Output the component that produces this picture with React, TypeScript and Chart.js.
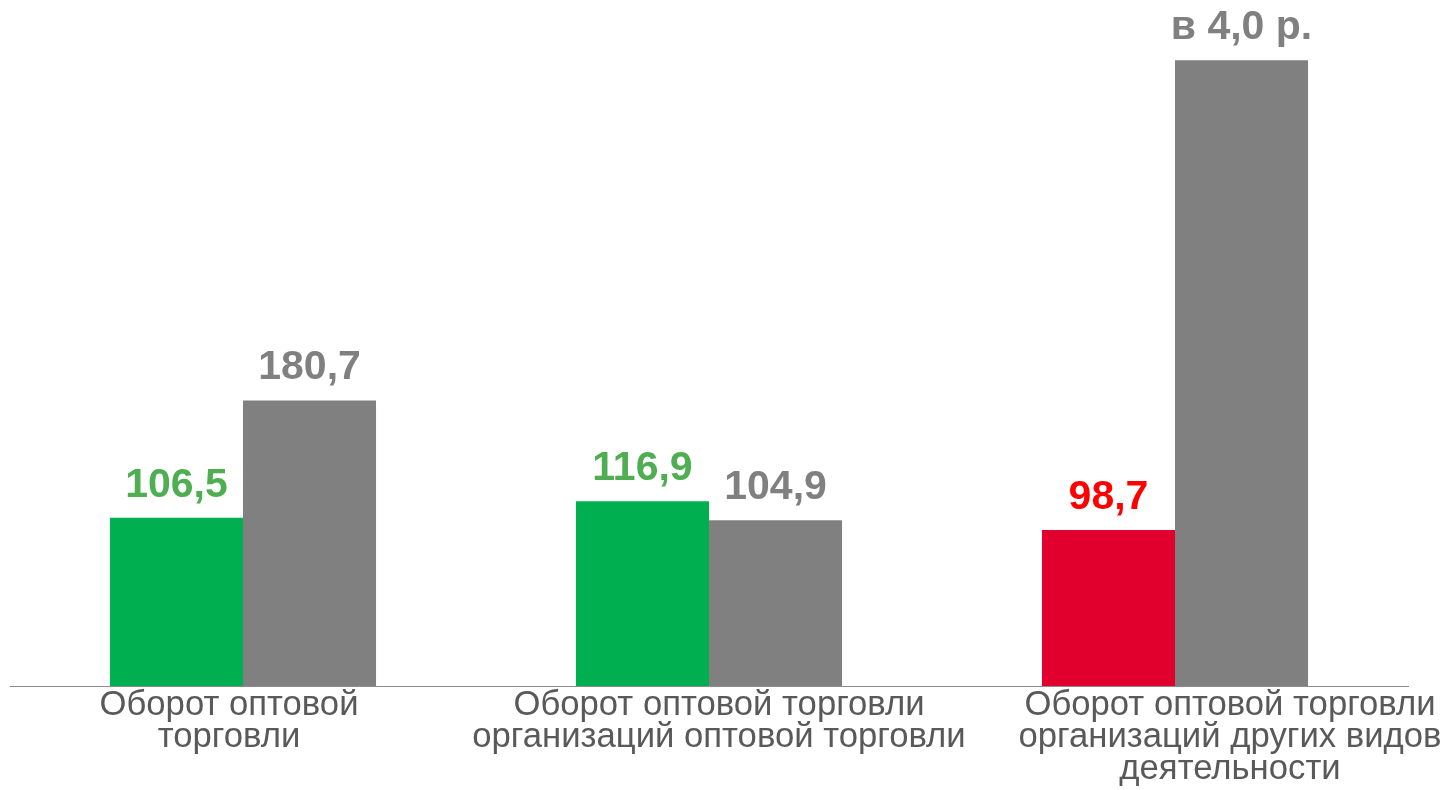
import React, { useEffect, useRef } from "react";
import { Chart, registerables } from "chart.js";

Chart.register(...registerables);

const categories: string[][] = [
  ["Оборот оптовой", "торговли"],
  ["Оборот оптовой торговли", "организаций оптовой торговли"],
  ["Оборот оптовой торговли", "организаций других видов", "деятельности"],
];
const seriesA: number[] = [106.5, 116.9, 98.7];
const seriesB: number[] = [180.7, 104.9, 396];
const labelsA: string[] = ["106,5", "116,9", "98,7"];
const labelsB: string[] = ["180,7", "104,9", "в 4,0 р."];
const barColorsA: string[] = ["#00B050", "#00B050", "#E1002D"];
const barColorsB: string[] = ["#808080", "#808080", "#808080"];
const labelColorsA: string[] = ["#4EAE51", "#4EAE51", "#FF0000"];
const labelColorsB: string[] = ["#808080", "#808080", "#808080"];

const FONT = "'Liberation Sans', Arial, sans-serif";
const catOffsets = [-14, 10, 55];

const labelPlugin = {
  id: "customLabels",
  afterDatasetsDraw(chart: any) {
    const ctx = chart.ctx;
    ctx.save();
    ctx.font = `bold 41px ${FONT}`;
    ctx.textAlign = "center";
    ctx.textBaseline = "alphabetic";
    const sets = [
      { labels: labelsA, colors: labelColorsA },
      { labels: labelsB, colors: labelColorsB },
    ];
    sets.forEach((s, di) => {
      const meta = chart.getDatasetMeta(di);
      meta.data.forEach((bar: any, i: number) => {
        ctx.fillStyle = s.colors[i];
        ctx.fillText(s.labels[i], bar.x, bar.y - 21);
      });
    });
    // category labels
    const xs = chart.scales.x;
    const bottom = chart.chartArea.bottom;
    ctx.font = `34.7px ${FONT}`;
    ctx.fillStyle = "#595959";
    categories.forEach((lines, i) => {
      const cx = xs.getPixelForValue(i) + catOffsets[i];
      lines.forEach((line, li) => {
        ctx.fillText(line, cx, bottom + 29 + li * 32);
      });
    });
    ctx.restore();
  },
};

export default function App() {
  const ref = useRef<HTMLCanvasElement | null>(null);
  useEffect(() => {
    if (!ref.current) return;
    const chart = new Chart(ref.current, {
      type: "bar",
      data: {
        labels: categories.map((c) => c.join(" ")),
        datasets: [
          {
            data: seriesA,
            backgroundColor: barColorsA,
            borderWidth: 0,
            barPercentage: 1,
            categoryPercentage: 0.571,
          },
          {
            data: seriesB,
            backgroundColor: barColorsB,
            borderWidth: 0,
            barPercentage: 1,
            categoryPercentage: 0.571,
          },
        ],
      },
      options: {
        animation: false,
        responsive: true,
        maintainAspectRatio: false,
        layout: { padding: { left: 10, right: 37, top: 8, bottom: 0 } },
        plugins: {
          legend: { display: false },
          tooltip: { enabled: false },
        },
        scales: {
          x: {
            grid: { display: false },
            border: { display: true, color: "#8C8C8C", width: 1 },
            ticks: { display: false },
            afterFit: (scale: any) => {
              scale.height = 104;
            },
          },
          y: {
            display: false,
            min: 0,
            max: 429,
          },
        },
      },
      plugins: [labelPlugin],
    });
    return () => chart.destroy();
  }, []);
  return (
    <div style={{ position: "fixed", left: 0, top: 0, width: 1445, height: 790, background: "#fff" }}>
      <canvas ref={ref} />
    </div>
  );
}
